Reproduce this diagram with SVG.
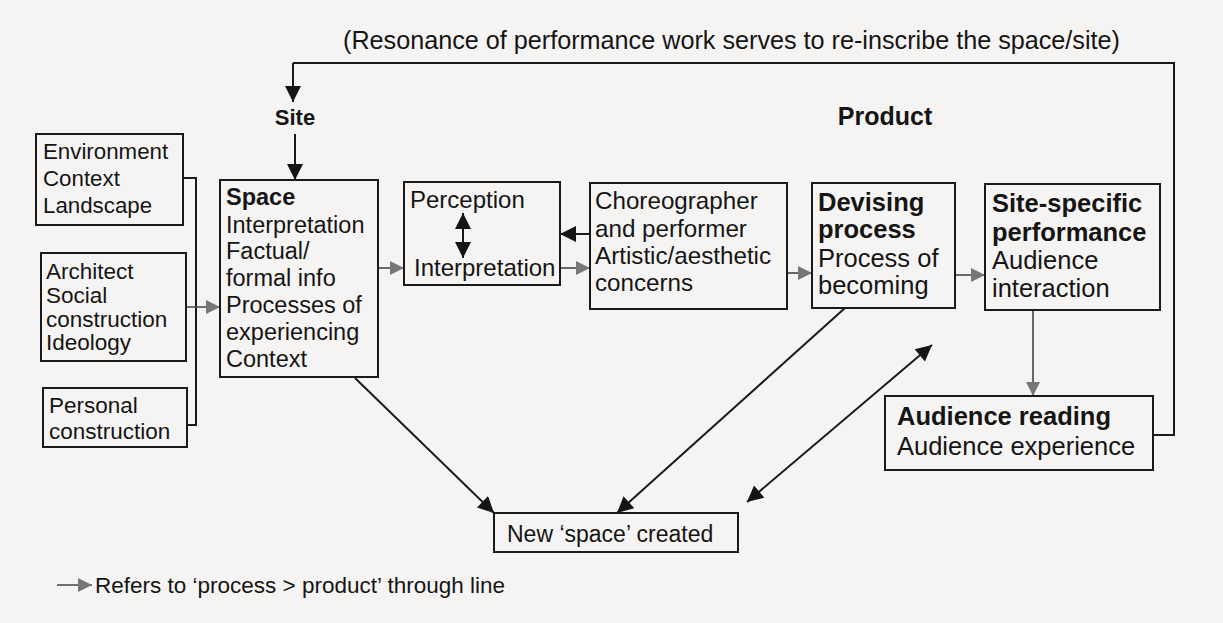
<svg xmlns="http://www.w3.org/2000/svg" width="1223" height="623" viewBox="0 0 1223 623">
<style>
text{font-family:"Liberation Sans",Arial,sans-serif;fill:#151515}
.b{font-weight:bold}
.box{fill:none;stroke:#1a1a1a;stroke-width:2}
.ln{fill:none;stroke:#1a1a1a;stroke-width:2}
.g{fill:none;stroke:#444;stroke-width:1.6}
</style>
<defs>
<marker id="abL" viewBox="0 0 10 10" refX="10" refY="5" markerWidth="18" markerHeight="16" markerUnits="userSpaceOnUse" orient="auto-start-reverse"><path d="M0,0L10,5L0,10z" fill="#151515"/></marker>
<marker id="ag" viewBox="0 0 10 10" refX="10" refY="5" markerWidth="16" markerHeight="14" markerUnits="userSpaceOnUse" orient="auto"><path d="M0,0L10,5L0,10z" fill="#777"/></marker>
</defs>
<rect width="1223" height="623" fill="#f6f4f2"/>

<g id="connectors">
<polyline class="ln" points="1153,435 1174,435 1174,63 293,63"/>
<line class="ln" x1="293" y1="63" x2="293" y2="102" marker-end="url(#abL)"/>
<line class="ln" x1="295" y1="134" x2="295" y2="180" marker-end="url(#abL)"/>
<polyline class="ln" points="183,178 196,178 196,425 187,425"/>
<line class="g" x1="186" y1="307" x2="220" y2="307" marker-end="url(#ag)"/>
<line class="g" x1="378" y1="268" x2="404" y2="268" marker-end="url(#ag)"/>
<line class="g" x1="560" y1="268" x2="590" y2="268" marker-end="url(#ag)"/>
<line class="ln" x1="590" y1="234" x2="560" y2="234" marker-end="url(#abL)"/>
<line class="ln" x1="463" y1="213" x2="463" y2="258" marker-start="url(#abL)" marker-end="url(#abL)"/>
<line class="g" x1="787" y1="273" x2="812" y2="273" marker-end="url(#ag)"/>
<line class="g" x1="955" y1="275" x2="985" y2="275" marker-end="url(#ag)"/>
<line class="g" x1="1033" y1="310" x2="1033" y2="396" marker-end="url(#ag)"/>
<line class="ln" x1="355" y1="378" x2="494" y2="513" marker-end="url(#abL)"/>
<line class="ln" x1="845" y1="308" x2="617" y2="513" marker-end="url(#abL)"/>
<line class="ln" x1="747" y1="502" x2="932" y2="345" marker-start="url(#abL)" marker-end="url(#abL)"/>
</g>

<g id="title"><text x="343" y="49" font-size="25.2">(Resonance of performance work serves to re-inscribe the space/site)</text></g>
<g id="site-label"><text class="b" x="295" y="125" font-size="22" text-anchor="middle">Site</text></g>
<g id="product-label"><text class="b" x="885" y="125" font-size="25" text-anchor="middle">Product</text></g>

<g id="environment">
<rect class="box" x="36" y="134" width="147" height="91"/>
<text font-size="22.3"><tspan x="43" y="159">Environment</tspan><tspan x="43" y="186">Context</tspan><tspan x="43" y="213">Landscape</tspan></text>
</g>
<g id="architect">
<rect class="box" x="41" y="253" width="145" height="108"/>
<text font-size="22.5"><tspan x="46" y="279">Architect</tspan><tspan x="46" y="303">Social</tspan><tspan x="46" y="327">construction</tspan><tspan x="46" y="350">Ideology</tspan></text>
</g>
<g id="personal">
<rect class="box" x="43" y="388" width="144" height="59"/>
<text font-size="22.5"><tspan x="49" y="413">Personal</tspan><tspan x="49" y="439">construction</tspan></text>
</g>
<g id="space">
<rect class="box" x="220" y="180" width="158" height="197"/>
<text font-size="23.5"><tspan class="b" x="226" y="205">Space</tspan><tspan x="226" y="233">Interpretation</tspan><tspan x="226" y="259">Factual/</tspan><tspan x="226" y="286">formal info</tspan><tspan x="226" y="313">Processes of</tspan><tspan x="226" y="340">experiencing</tspan><tspan x="226" y="367">Context</tspan></text>
</g>
<g id="perception">
<rect class="box" x="404" y="182" width="156" height="103"/>
<text font-size="24"><tspan x="410" y="208">Perception</tspan><tspan x="414" y="276">Interpretation</tspan></text>
</g>
<g id="choreographer">
<rect class="box" x="590" y="183" width="197" height="126"/>
<text font-size="24.2"><tspan x="595" y="209">Choreographer</tspan><tspan x="595" y="237">and performer</tspan><tspan x="595" y="264">Artistic/aesthetic</tspan><tspan x="595" y="291">concerns</tspan></text>
</g>
<g id="devising">
<rect class="box" x="812" y="183" width="143" height="125"/>
<text font-size="25.5"><tspan class="b" x="818" y="211">Devising</tspan><tspan class="b" x="818" y="238">process</tspan><tspan x="818" y="267">Process of</tspan><tspan x="818" y="294">becoming</tspan></text>
</g>
<g id="site-specific">
<rect class="box" x="985" y="184" width="175" height="126"/>
<text font-size="25.5"><tspan class="b" x="992" y="212">Site-specific</tspan><tspan class="b" x="992" y="241">performance</tspan><tspan x="992" y="269">Audience</tspan><tspan x="992" y="297">interaction</tspan></text>
</g>
<g id="audience-reading">
<rect class="box" x="885" y="396" width="268" height="74"/>
<text font-size="25.5"><tspan class="b" x="897" y="425">Audience reading</tspan><tspan x="897" y="455">Audience experience</tspan></text>
</g>
<g id="new-space">
<rect class="box" x="494" y="513" width="244" height="39"/>
<text x="507" y="542" font-size="23">New ‘space’ created</text>
</g>
<g id="legend">
<line class="g" x1="57" y1="585" x2="92" y2="585" marker-end="url(#ag)"/>
<text x="95" y="593" font-size="22.5">Refers to ‘process &gt; product’ through line</text>
</g>
</svg>
